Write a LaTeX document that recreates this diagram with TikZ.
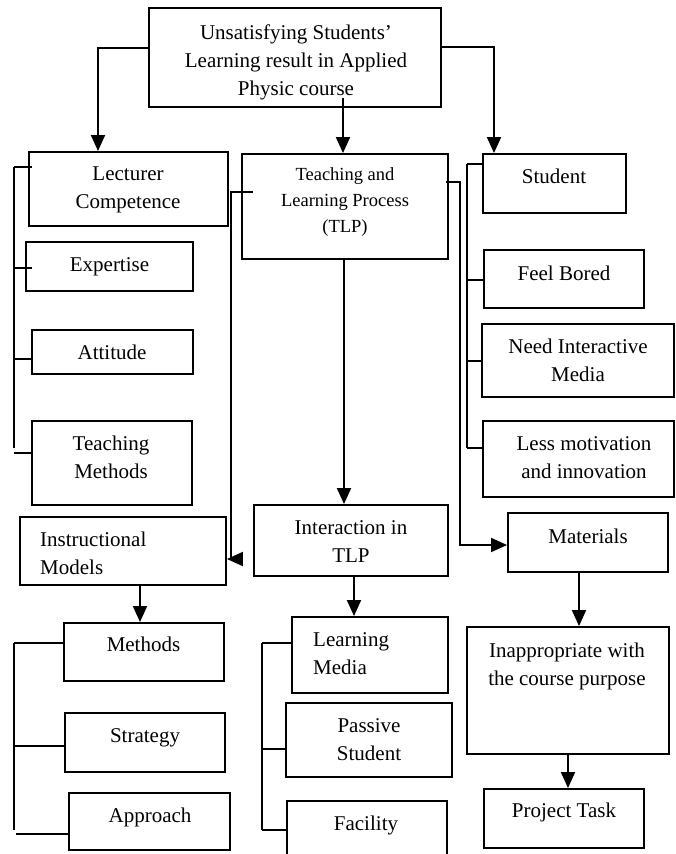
\documentclass[tikz,border=0pt]{standalone}
\usepackage{fontspec}
\setmainfont{Liberation Serif}
\usetikzlibrary{arrows.meta}
\tikzset{
  bx/.style={draw, line width=1.9pt, inner sep=0pt},
  txt/.style={font=\fontsize{21}{28}\selectfont, align=center, inner sep=0pt},
  smalltxt/.style={font=\fontsize{18.5}{26}\selectfont, align=center, inner sep=0pt},
  ln/.style={line width=1.9pt},
  arr/.style={line width=1.9pt, -{Triangle[width=14pt,length=16pt]}},
}
\newcommand\bxn[5]{%
  \pgfmathsetmacro\myw{#4-#2}\pgfmathsetmacro\myh{#5-#3}%
  \pgfmathsetmacro\mycx{(#2+#4)/2}\pgfmathsetmacro\mycy{(#3+#5)/2}%
  \node[bx, minimum width=\myw pt, minimum height=\myh pt] (#1) at (\mycx,\mycy) {};}
\begin{document}
\begin{tikzpicture}[x=1pt,y=-1pt]
\useasboundingbox (0,0) rectangle (675,854);
\clip (0,0) rectangle (675,854);
% boxes
\bxn{top}{149}{8}{441}{107}
\bxn{lc}{29}{152}{228}{226}
\bxn{exp}{26}{242}{193}{291}
\bxn{att}{32}{330}{193}{374}
\bxn{tm}{32}{421}{192}{505}
\bxn{tlp}{242}{154}{448}{259}
\bxn{stu}{483}{154}{626}{213}
\bxn{fb}{484}{250}{644}{308}
\bxn{nim}{482}{324}{674}{397}
\bxn{lmo}{483}{421}{674}{497}
\bxn{inst}{20}{517}{226}{585}
\bxn{inter}{254}{505}{448}{576}
\bxn{meth}{64}{623}{224}{681}
\bxn{strat}{65}{713}{225}{772}
\bxn{appr}{69}{793}{230}{850}
\bxn{lmed}{292}{617}{448}{693}
\bxn{pass}{286}{703}{452}{777}
\bxn{fac}{287}{801}{447}{880}
\bxn{mat}{508}{513}{668}{572}
\bxn{inap}{467}{627}{669}{754}
\bxn{proj}{484}{789}{644}{848}
% texts
\node[txt] (top-t) at (296,61.5) {\strut Unsatisfying Students’\\\strut Learning result in Applied\\\strut Physic course};
\node[txt] (lc-t) at (128,189) {\strut Lecturer\\\strut Competence};
\node[txt] (exp-t) at (109.5,266) {\strut Expertise};
\node[txt] (att-t) at (112,354) {\strut Attitude};
\node[txt] (tm-t) at (111,459) {\strut Teaching\\\strut Methods};
\node[smalltxt] (tlp-t) at (345,201) {\strut Teaching and\\\strut Learning Process\\\strut (TLP)};
\node[txt] (stu-t) at (554,178) {\strut Student};
\node[txt] (fb-t) at (564,275) {\strut Feel Bored};
\node[txt] (nim-t) at (578,362) {\strut Need Interactive\\\strut Media};
\node[txt] (lmo-t) at (584,459) {\strut Less motivation\\\strut and innovation};
\node[txt, align=left, anchor=west] (inst-t) at (40,555) {\strut Instructional\\\strut Models};
\node[txt] (inter-t) at (351,543) {\strut Interaction in\\\strut TLP};
\node[txt] (meth-t) at (143.5,646) {\strut Methods};
\node[txt] (strat-t) at (145,737) {\strut Strategy};
\node[txt] (appr-t) at (150,817) {\strut Approach};
\node[txt, align=left, anchor=west] (lmed-t) at (313,655) {\strut Learning\\\strut Media};
\node[txt] (pass-t) at (369,741) {\strut Passive\\\strut Student};
\node[txt] (fac-t) at (366,825) {\strut Facility};
\node[txt] (mat-t) at (588,538) {\strut Materials};
\node[txt] (inap-t) at (567,666) {\strut Inappropriate with\\\strut the course purpose};
\node[txt] (proj-t) at (564,812) {\strut Project Task};
% coordinates
\coordinate (c1) at (343,98);
\coordinate (tl0) at (253,192);
\coordinate (tl1) at (231,192);
\coordinate (tl2) at (231,559);
\coordinate (tl3) at (243,559);
\coordinate (tr0) at (446,182);
\coordinate (tr1) at (460,545);
% top connectors
\draw[arr] ([yshift=9.5pt]top.west) -| ([xshift=-30.5pt]lc.north);
\draw[arr] (c1) -- (c1 |- tlp.north);
\draw[arr] ([yshift=10.5pt]top.east) -| ([xshift=-60.5pt]stu.north);
% TLP connectors
\draw[ln] (tl0) -- (tl1) -- (tl2);
\draw[arr] (tl3) -- (tl3 -| inst.east);
\draw[arr] (tr0) -| (tr1) -- (tr1 -| mat.west);
\draw[arr] ([xshift=-1pt]tlp.south) -- ([xshift=-1pt]tlp.south |- inter.north);
\draw[arr] ([xshift=3pt]inter.south) -- ([xshift=3pt]inter.south |- lmed.north);
\draw[arr] ([xshift=-4pt]meth.north |- inst.south) -- ([xshift=-4pt]meth.north);
\draw[arr] ([xshift=-9pt]mat.south) -- ([xshift=-9pt]mat.south |- inap.north);
\draw[arr] (inap.south) -- (inap.south |- proj.north);
% bracket: lecturer
\coordinate (ba1) at (14,167);
\coordinate (ba2) at (14,268);
\coordinate (ba3) at (14,359);
\coordinate (ba4) at (14,448);
\coordinate (ba5) at (14,453);
\draw[ln] (ba1) -- (ba4);
\draw[ln] (ba1) -- ([xshift=4pt]ba1 -| lc.west);
\draw[ln] (ba2) -- ([xshift=7pt]ba2 -| exp.west);
\draw[ln] (ba3) -- ([xshift=1pt]ba3 -| att.west);
\draw[ln] (ba5) -- (ba5 -| tm.west);
% bracket: student
\coordinate (bs1) at (467,164);
\coordinate (bs2) at (467,280);
\coordinate (bs3) at (467,361);
\coordinate (bs4) at (467,448);
\draw[ln] (bs1) -- (bs4);
\draw[ln] (bs1) -- (bs1 -| stu.west);
\draw[ln] (bs2) -- (bs2 -| fb.west);
\draw[ln] (bs3) -- (bs3 -| nim.west);
\draw[ln] (bs4) -- (bs4 -| lmo.west);
% bracket: instructional models
\coordinate (bm1) at (14,643);
\coordinate (bm2) at (14,746);
\coordinate (bm3) at (14,830);
\coordinate (bm4) at (16,834);
\draw[ln] (bm1) -- (bm3);
\draw[ln] (bm1) -- (bm1 -| meth.west);
\draw[ln] (bm2) -- (bm2 -| strat.west);
\draw[ln] (bm4) -- (bm4 -| appr.west);
% bracket: interaction
\coordinate (bi1) at (262,643);
\coordinate (bi2) at (262,749);
\coordinate (bi3) at (262,830);
\draw[ln] (bi1) -- (bi3);
\draw[ln] (bi1) -- (bi1 -| lmed.west);
\draw[ln] (bi2) -- (bi2 -| pass.west);
\draw[ln] (bi3) -- (bi3 -| fac.west);
\end{tikzpicture}
\end{document}
